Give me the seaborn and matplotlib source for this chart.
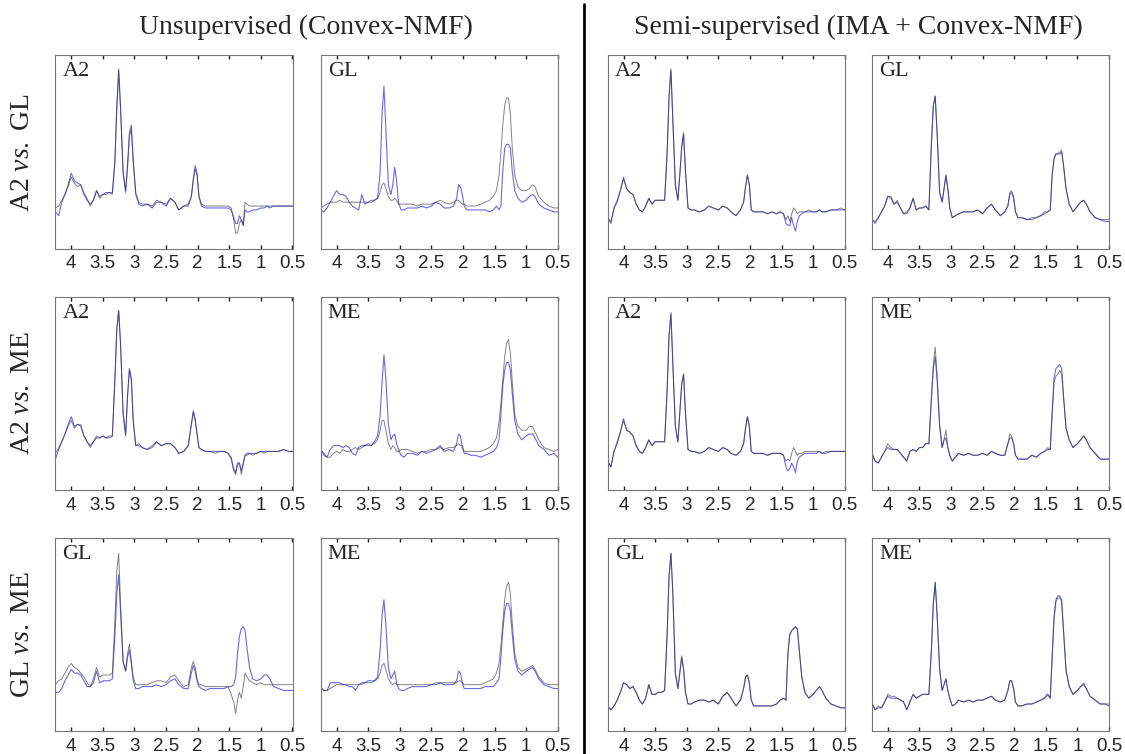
import matplotlib
matplotlib.use("Agg")
import matplotlib.pyplot as plt
from matplotlib.lines import Line2D
import pandas as pd
import seaborn as sns

# chemical shift grid (ppm) shared by every spectrum
ppm = [4.25, 4.20, 4.15, 4.10, 4.05, 4.00, 3.95, 3.90, 3.85, 3.80, 3.75, 3.70, 3.65,
       3.60, 3.55, 3.50, 3.45, 3.40, 3.35,
       3.31, 3.28, 3.25, 3.22, 3.18, 3.14, 3.11, 3.08, 3.05, 3.02, 2.98, 2.93,
       2.88, 2.80, 2.72, 2.65, 2.58, 2.50, 2.43, 2.36, 2.30, 2.22, 2.15,
       2.10, 2.07, 2.04, 2.01, 1.98, 1.94,
       1.88, 1.80, 1.72, 1.65, 1.58, 1.52,
       1.47, 1.43, 1.40, 1.37, 1.34, 1.31, 1.28, 1.25, 1.22, 1.18, 1.13, 1.07, 1.00,
       0.95, 0.90, 0.86, 0.80, 0.72, 0.64, 0.56, 0.50]

tick_pos = [4, 3.5, 3, 2.5, 2, 1.5, 1, 0.5]
tick_labels = ["4", "3.5", "3", "2.5", "2", "1.5", "1", "0.5"]

col_titles = ["Unsupervised (Convex-NMF)", "Semi-supervised (IMA + Convex-NMF)"]
row_titles = ["A2 $\\mathit{vs.}$ GL", "A2 $\\mathit{vs.}$ ME", "GL $\\mathit{vs.}$ ME"]

# ---- row 1 : A2 vs GL ----
u_a2gl_a2_black = [0.21, 0.22, 0.25, 0.28, 0.32, 0.37, 0.34, 0.32, 0.33, 0.29, 0.26, 0.22, 0.25, 0.30, 0.26, 0.28, 0.28, 0.29, 0.28,
                   0.45, 0.72, 0.92, 0.72, 0.39, 0.30, 0.42, 0.58, 0.62, 0.45, 0.29, 0.24,
                   0.23, 0.23, 0.22, 0.25, 0.24, 0.23, 0.26, 0.24, 0.20, 0.22, 0.23,
                   0.27, 0.35, 0.41, 0.38, 0.27, 0.23,
                   0.22, 0.22, 0.22, 0.22, 0.22, 0.22,
                   0.21, 0.15, 0.08, 0.08, 0.13, 0.15, 0.12, 0.24, 0.23, 0.22, 0.22, 0.22, 0.22,
                   0.22, 0.22, 0.22, 0.22, 0.22, 0.22, 0.22, 0.22]
u_a2gl_a2_blue = [0.19, 0.17, 0.24, 0.28, 0.33, 0.39, 0.35, 0.34, 0.33, 0.28, 0.25, 0.23, 0.25, 0.30, 0.27, 0.28, 0.29, 0.29, 0.29,
                  0.45, 0.73, 0.93, 0.73, 0.40, 0.29, 0.43, 0.60, 0.64, 0.46, 0.28, 0.23,
                  0.22, 0.23, 0.21, 0.24, 0.24, 0.22, 0.26, 0.24, 0.20, 0.22, 0.22,
                  0.27, 0.36, 0.43, 0.39, 0.27, 0.22,
                  0.21, 0.21, 0.21, 0.21, 0.21, 0.21,
                  0.20, 0.16, 0.13, 0.13, 0.17, 0.15, 0.12, 0.20, 0.19, 0.19, 0.20, 0.20, 0.21,
                  0.21, 0.22, 0.21, 0.22, 0.22, 0.22, 0.22, 0.22]
u_a2gl_gl_black = [0.21, 0.22, 0.23, 0.24, 0.24, 0.24, 0.25, 0.24, 0.24, 0.24, 0.24, 0.24, 0.24, 0.24, 0.24, 0.24, 0.25, 0.25, 0.26,
                   0.29, 0.33, 0.34, 0.31, 0.27, 0.25, 0.25, 0.26, 0.25, 0.23, 0.23, 0.23,
                   0.23, 0.23, 0.22, 0.23, 0.23, 0.23, 0.24, 0.25, 0.24, 0.23, 0.24,
                   0.25, 0.25, 0.24, 0.23, 0.23, 0.22,
                   0.22, 0.22, 0.23, 0.24, 0.25, 0.27,
                   0.30, 0.38, 0.50, 0.64, 0.74, 0.78, 0.78, 0.70, 0.52, 0.38, 0.32, 0.30, 0.30,
                   0.31, 0.33, 0.32, 0.27, 0.24, 0.22, 0.21, 0.21]
u_a2gl_gl_blue = [0.20, 0.19, 0.21, 0.24, 0.27, 0.30, 0.28, 0.28, 0.27, 0.24, 0.22, 0.21, 0.20, 0.28, 0.23, 0.24, 0.24, 0.25, 0.26,
                  0.40, 0.70, 0.84, 0.62, 0.33, 0.28, 0.33, 0.42, 0.35, 0.24, 0.20, 0.20,
                  0.21, 0.21, 0.21, 0.22, 0.21, 0.22, 0.24, 0.23, 0.21, 0.21, 0.22,
                  0.26, 0.33, 0.32, 0.28, 0.22, 0.20,
                  0.20, 0.20, 0.20, 0.20, 0.19, 0.20,
                  0.22, 0.20, 0.22, 0.40, 0.52, 0.54, 0.54, 0.52, 0.40, 0.30, 0.26, 0.24, 0.25,
                  0.27, 0.28, 0.27, 0.23, 0.21, 0.20, 0.19, 0.19]
s_a2gl_a2_black = [0.16, 0.14, 0.21, 0.24, 0.30, 0.36, 0.31, 0.29, 0.28, 0.23, 0.20, 0.19, 0.22, 0.26, 0.23, 0.25, 0.25, 0.25, 0.25,
                   0.50, 0.78, 0.92, 0.66, 0.33, 0.25, 0.38, 0.52, 0.59, 0.40, 0.21, 0.20,
                   0.20, 0.19, 0.20, 0.22, 0.21, 0.20, 0.22, 0.21, 0.19, 0.17, 0.20,
                   0.24, 0.32, 0.38, 0.33, 0.20, 0.19,
                   0.19, 0.19, 0.18, 0.19, 0.18, 0.19,
                   0.18, 0.15, 0.17, 0.14, 0.18, 0.21, 0.20, 0.18, 0.19, 0.19, 0.19, 0.20, 0.19,
                   0.19, 0.20, 0.19, 0.19, 0.20, 0.20, 0.21, 0.20]
s_a2gl_a2_blue = [0.16, 0.13, 0.21, 0.25, 0.30, 0.37, 0.31, 0.29, 0.28, 0.23, 0.20, 0.19, 0.22, 0.26, 0.23, 0.25, 0.25, 0.25, 0.25,
                  0.50, 0.79, 0.93, 0.67, 0.33, 0.25, 0.38, 0.53, 0.60, 0.40, 0.21, 0.20,
                  0.20, 0.19, 0.20, 0.22, 0.21, 0.20, 0.22, 0.21, 0.19, 0.17, 0.20,
                  0.24, 0.32, 0.38, 0.33, 0.20, 0.19,
                  0.19, 0.19, 0.18, 0.19, 0.18, 0.19,
                  0.18, 0.13, 0.12, 0.12, 0.16, 0.12, 0.09, 0.14, 0.17, 0.18, 0.19, 0.19, 0.19,
                  0.19, 0.20, 0.19, 0.19, 0.20, 0.20, 0.20, 0.20]
s_a2gl_gl_black = [0.15, 0.14, 0.16, 0.19, 0.22, 0.27, 0.27, 0.23, 0.25, 0.21, 0.18, 0.19, 0.21, 0.26, 0.20, 0.21, 0.21, 0.22, 0.20,
                   0.54, 0.74, 0.79, 0.60, 0.29, 0.24, 0.31, 0.38, 0.31, 0.21, 0.16, 0.17,
                   0.18, 0.19, 0.19, 0.19, 0.20, 0.18, 0.21, 0.23, 0.20, 0.17, 0.19,
                   0.22, 0.29, 0.30, 0.27, 0.19, 0.16,
                   0.16, 0.15, 0.16, 0.16, 0.17, 0.19,
                   0.19, 0.20, 0.38, 0.47, 0.49, 0.49, 0.50, 0.51, 0.43, 0.31, 0.23, 0.19, 0.22,
                   0.24, 0.25, 0.23, 0.19, 0.16, 0.15, 0.15, 0.15]
s_a2gl_gl_blue = [0.15, 0.13, 0.16, 0.19, 0.22, 0.27, 0.26, 0.23, 0.24, 0.21, 0.18, 0.18, 0.21, 0.26, 0.20, 0.21, 0.21, 0.22, 0.20,
                  0.54, 0.74, 0.79, 0.60, 0.29, 0.24, 0.31, 0.38, 0.31, 0.21, 0.16, 0.17,
                  0.18, 0.19, 0.19, 0.19, 0.20, 0.18, 0.21, 0.23, 0.20, 0.17, 0.19,
                  0.22, 0.28, 0.29, 0.26, 0.19, 0.16,
                  0.16, 0.15, 0.15, 0.16, 0.17, 0.18,
                  0.19, 0.20, 0.38, 0.46, 0.49, 0.49, 0.49, 0.50, 0.43, 0.31, 0.23, 0.19, 0.22,
                  0.24, 0.25, 0.23, 0.19, 0.16, 0.15, 0.14, 0.14]

# ---- row 2 : A2 vs ME ----
u_a2me_a2_black = [0.19, 0.22, 0.25, 0.29, 0.33, 0.36, 0.32, 0.34, 0.34, 0.28, 0.25, 0.22, 0.25, 0.28, 0.27, 0.28, 0.27, 0.28, 0.28,
                   0.57, 0.83, 0.93, 0.75, 0.39, 0.29, 0.48, 0.62, 0.57, 0.36, 0.23, 0.24,
                   0.22, 0.21, 0.23, 0.25, 0.23, 0.24, 0.24, 0.22, 0.19, 0.20, 0.23,
                   0.34, 0.40, 0.36, 0.29, 0.22, 0.21,
                   0.20, 0.20, 0.19, 0.20, 0.20, 0.19,
                   0.16, 0.10, 0.08, 0.13, 0.14, 0.08, 0.13, 0.18, 0.18, 0.19, 0.18, 0.19, 0.20,
                   0.19, 0.20, 0.20, 0.20, 0.20, 0.21, 0.20, 0.20]
u_a2me_a2_blue = [0.16, 0.21, 0.25, 0.29, 0.34, 0.38, 0.33, 0.34, 0.33, 0.28, 0.25, 0.23, 0.25, 0.27, 0.27, 0.28, 0.27, 0.27, 0.28,
                  0.57, 0.83, 0.93, 0.76, 0.40, 0.28, 0.49, 0.63, 0.58, 0.36, 0.23, 0.23,
                  0.22, 0.21, 0.22, 0.25, 0.23, 0.24, 0.24, 0.22, 0.19, 0.20, 0.23,
                  0.34, 0.41, 0.37, 0.29, 0.22, 0.21,
                  0.20, 0.20, 0.20, 0.20, 0.20, 0.19,
                  0.17, 0.11, 0.09, 0.14, 0.14, 0.10, 0.14, 0.18, 0.19, 0.19, 0.19, 0.19, 0.20,
                  0.20, 0.20, 0.20, 0.20, 0.20, 0.21, 0.20, 0.20]
u_a2me_me_black = [0.21, 0.19, 0.17, 0.17, 0.19, 0.20, 0.19, 0.21, 0.20, 0.20, 0.21, 0.22, 0.21, 0.22, 0.23, 0.23, 0.23, 0.24, 0.26,
                   0.31, 0.36, 0.36, 0.31, 0.24, 0.21, 0.23, 0.22, 0.20, 0.20, 0.21, 0.21,
                   0.21, 0.20, 0.19, 0.20, 0.20, 0.21, 0.21, 0.22, 0.21, 0.22, 0.22,
                   0.23, 0.24, 0.23, 0.23, 0.20, 0.20,
                   0.20, 0.20, 0.20, 0.21, 0.22, 0.24,
                   0.27, 0.35, 0.45, 0.57, 0.69, 0.76, 0.78, 0.71, 0.56, 0.39, 0.33, 0.31, 0.31,
                   0.33, 0.33, 0.30, 0.26, 0.22, 0.21, 0.20, 0.21]
u_a2me_me_blue = [0.21, 0.18, 0.17, 0.21, 0.23, 0.23, 0.23, 0.22, 0.23, 0.22, 0.19, 0.18, 0.22, 0.23, 0.23, 0.24, 0.23, 0.25, 0.28,
                  0.39, 0.56, 0.70, 0.58, 0.34, 0.26, 0.28, 0.29, 0.24, 0.21, 0.18, 0.17,
                  0.19, 0.19, 0.18, 0.20, 0.19, 0.20, 0.21, 0.23, 0.20, 0.21, 0.20,
                  0.24, 0.29, 0.28, 0.22, 0.19, 0.19,
                  0.18, 0.18, 0.17, 0.18, 0.19, 0.20,
                  0.22, 0.26, 0.39, 0.54, 0.62, 0.66, 0.66, 0.62, 0.50, 0.36, 0.29, 0.26, 0.28,
                  0.29, 0.29, 0.27, 0.23, 0.21, 0.18, 0.19, 0.17]
s_a2me_a2_black = [0.15, 0.12, 0.20, 0.24, 0.30, 0.36, 0.31, 0.30, 0.28, 0.23, 0.20, 0.19, 0.22, 0.26, 0.23, 0.25, 0.25, 0.25, 0.25,
                   0.52, 0.80, 0.92, 0.66, 0.33, 0.25, 0.40, 0.55, 0.60, 0.40, 0.21, 0.20,
                   0.20, 0.19, 0.20, 0.22, 0.21, 0.20, 0.22, 0.21, 0.19, 0.18, 0.20,
                   0.24, 0.32, 0.38, 0.33, 0.20, 0.19,
                   0.19, 0.19, 0.18, 0.19, 0.19, 0.19,
                   0.18, 0.15, 0.16, 0.15, 0.19, 0.22, 0.20, 0.18, 0.19, 0.19, 0.20, 0.20, 0.20,
                   0.20, 0.20, 0.19, 0.20, 0.20, 0.20, 0.20, 0.20]
s_a2me_a2_blue = [0.15, 0.12, 0.20, 0.25, 0.30, 0.37, 0.31, 0.30, 0.28, 0.23, 0.20, 0.19, 0.22, 0.26, 0.23, 0.25, 0.25, 0.25, 0.25,
                  0.52, 0.80, 0.91, 0.65, 0.33, 0.25, 0.40, 0.55, 0.60, 0.40, 0.21, 0.20,
                  0.20, 0.19, 0.20, 0.22, 0.21, 0.20, 0.22, 0.21, 0.19, 0.18, 0.20,
                  0.24, 0.32, 0.38, 0.33, 0.20, 0.19,
                  0.19, 0.19, 0.18, 0.19, 0.19, 0.19,
                  0.18, 0.12, 0.10, 0.11, 0.14, 0.12, 0.09, 0.15, 0.17, 0.18, 0.19, 0.19, 0.19,
                  0.19, 0.20, 0.19, 0.19, 0.20, 0.20, 0.20, 0.20]
s_a2me_me_black = [0.19, 0.15, 0.14, 0.17, 0.20, 0.24, 0.22, 0.21, 0.21, 0.19, 0.17, 0.15, 0.20, 0.21, 0.20, 0.22, 0.22, 0.24, 0.24,
                   0.48, 0.65, 0.74, 0.60, 0.34, 0.22, 0.26, 0.31, 0.22, 0.18, 0.15, 0.17,
                   0.19, 0.18, 0.19, 0.18, 0.18, 0.19, 0.18, 0.20, 0.19, 0.18, 0.18,
                   0.24, 0.29, 0.28, 0.24, 0.18, 0.16,
                   0.16, 0.16, 0.18, 0.17, 0.19, 0.20,
                   0.22, 0.21, 0.39, 0.56, 0.59, 0.60, 0.62, 0.60, 0.48, 0.32, 0.26, 0.22, 0.24,
                   0.26, 0.28, 0.26, 0.22, 0.19, 0.16, 0.16, 0.16]
s_a2me_me_blue = [0.19, 0.15, 0.14, 0.17, 0.20, 0.22, 0.21, 0.21, 0.21, 0.19, 0.17, 0.15, 0.20, 0.21, 0.20, 0.22, 0.22, 0.24, 0.24,
                  0.47, 0.63, 0.69, 0.57, 0.33, 0.22, 0.26, 0.27, 0.22, 0.18, 0.15, 0.17,
                  0.19, 0.18, 0.19, 0.18, 0.18, 0.19, 0.18, 0.20, 0.19, 0.18, 0.18,
                  0.24, 0.27, 0.27, 0.24, 0.18, 0.16,
                  0.16, 0.16, 0.18, 0.17, 0.19, 0.20,
                  0.21, 0.21, 0.40, 0.58, 0.63, 0.64, 0.65, 0.63, 0.49, 0.32, 0.26, 0.22, 0.24,
                  0.26, 0.28, 0.26, 0.22, 0.19, 0.16, 0.16, 0.16]

# ---- row 3 : GL vs ME ----
u_glme_gl_black = [0.24, 0.26, 0.27, 0.30, 0.33, 0.35, 0.33, 0.32, 0.30, 0.28, 0.25, 0.23, 0.27, 0.33, 0.28, 0.29, 0.29, 0.29, 0.30,
                   0.57, 0.83, 0.92, 0.66, 0.36, 0.31, 0.40, 0.45, 0.36, 0.28, 0.24, 0.24,
                   0.24, 0.24, 0.25, 0.26, 0.26, 0.25, 0.28, 0.29, 0.26, 0.23, 0.24,
                   0.33, 0.36, 0.33, 0.27, 0.24, 0.24,
                   0.23, 0.23, 0.23, 0.23, 0.23, 0.23,
                   0.19, 0.15, 0.09, 0.16, 0.20, 0.17, 0.23, 0.30, 0.28, 0.26, 0.25, 0.24, 0.25,
                   0.24, 0.24, 0.24, 0.24, 0.24, 0.24, 0.24, 0.24]
u_glme_gl_blue = [0.20, 0.20, 0.22, 0.26, 0.29, 0.32, 0.30, 0.30, 0.29, 0.26, 0.23, 0.23, 0.25, 0.31, 0.25, 0.26, 0.26, 0.26, 0.27,
                  0.49, 0.71, 0.81, 0.61, 0.36, 0.31, 0.38, 0.42, 0.35, 0.26, 0.22, 0.22,
                  0.23, 0.23, 0.23, 0.24, 0.23, 0.24, 0.26, 0.27, 0.24, 0.22, 0.22,
                  0.30, 0.34, 0.31, 0.26, 0.23, 0.22,
                  0.21, 0.22, 0.22, 0.22, 0.22, 0.23,
                  0.23, 0.24, 0.28, 0.40, 0.49, 0.53, 0.54, 0.52, 0.43, 0.33, 0.27, 0.26, 0.27,
                  0.29, 0.29, 0.27, 0.23, 0.22, 0.21, 0.21, 0.21]
u_glme_me_black = [0.23, 0.21, 0.21, 0.22, 0.23, 0.24, 0.24, 0.24, 0.24, 0.24, 0.24, 0.24, 0.24, 0.24, 0.25, 0.25, 0.25, 0.26, 0.27,
                   0.30, 0.34, 0.35, 0.32, 0.27, 0.25, 0.24, 0.25, 0.24, 0.24, 0.24, 0.24,
                   0.24, 0.24, 0.24, 0.24, 0.24, 0.24, 0.25, 0.25, 0.25, 0.25, 0.25,
                   0.25, 0.26, 0.26, 0.25, 0.24, 0.24,
                   0.24, 0.24, 0.24, 0.25, 0.26, 0.27,
                   0.30, 0.35, 0.44, 0.56, 0.68, 0.75, 0.77, 0.71, 0.56, 0.40, 0.33, 0.31, 0.32,
                   0.33, 0.34, 0.32, 0.28, 0.25, 0.24, 0.24, 0.24]
u_glme_me_blue = [0.22, 0.21, 0.21, 0.25, 0.25, 0.25, 0.25, 0.24, 0.24, 0.23, 0.23, 0.21, 0.24, 0.25, 0.25, 0.26, 0.26, 0.26, 0.28,
                  0.42, 0.60, 0.68, 0.55, 0.33, 0.27, 0.29, 0.31, 0.25, 0.22, 0.21, 0.21,
                  0.22, 0.23, 0.23, 0.23, 0.23, 0.24, 0.24, 0.25, 0.24, 0.24, 0.24,
                  0.26, 0.31, 0.30, 0.25, 0.22, 0.22,
                  0.22, 0.22, 0.22, 0.23, 0.23, 0.23,
                  0.25, 0.27, 0.38, 0.52, 0.62, 0.66, 0.66, 0.62, 0.50, 0.37, 0.31, 0.29, 0.31,
                  0.32, 0.33, 0.31, 0.27, 0.24, 0.23, 0.22, 0.22]
s_glme_gl_black = [0.12, 0.11, 0.13, 0.16, 0.20, 0.25, 0.24, 0.22, 0.23, 0.20, 0.16, 0.14, 0.17, 0.24, 0.19, 0.19, 0.20, 0.20, 0.21,
                   0.50, 0.80, 0.92, 0.72, 0.30, 0.22, 0.30, 0.39, 0.32, 0.20, 0.14, 0.14,
                   0.15, 0.16, 0.16, 0.15, 0.16, 0.14, 0.18, 0.20, 0.17, 0.13, 0.16,
                   0.22, 0.28, 0.29, 0.25, 0.16, 0.13,
                   0.13, 0.13, 0.13, 0.13, 0.14, 0.16,
                   0.17, 0.16, 0.40, 0.50, 0.52, 0.53, 0.54, 0.53, 0.42, 0.28, 0.20, 0.17, 0.19,
                   0.21, 0.23, 0.21, 0.17, 0.14, 0.13, 0.12, 0.12]
s_glme_gl_blue = [0.13, 0.11, 0.13, 0.16, 0.20, 0.25, 0.24, 0.22, 0.23, 0.20, 0.16, 0.14, 0.17, 0.24, 0.19, 0.19, 0.20, 0.20, 0.21,
                  0.50, 0.80, 0.92, 0.71, 0.30, 0.22, 0.30, 0.38, 0.32, 0.20, 0.14, 0.14,
                  0.15, 0.16, 0.16, 0.15, 0.16, 0.14, 0.18, 0.20, 0.17, 0.13, 0.16,
                  0.22, 0.28, 0.29, 0.25, 0.16, 0.13,
                  0.13, 0.13, 0.13, 0.13, 0.14, 0.16,
                  0.17, 0.16, 0.40, 0.50, 0.52, 0.53, 0.54, 0.53, 0.42, 0.28, 0.20, 0.17, 0.19,
                  0.21, 0.23, 0.21, 0.17, 0.14, 0.13, 0.12, 0.12]
s_glme_me_black = [0.15, 0.11, 0.13, 0.12, 0.15, 0.19, 0.18, 0.18, 0.17, 0.16, 0.15, 0.11, 0.15, 0.19, 0.17, 0.18, 0.19, 0.19, 0.19,
                   0.42, 0.66, 0.77, 0.60, 0.32, 0.21, 0.24, 0.27, 0.21, 0.17, 0.13, 0.14,
                   0.16, 0.15, 0.16, 0.15, 0.16, 0.16, 0.17, 0.18, 0.16, 0.15, 0.16,
                   0.21, 0.26, 0.26, 0.22, 0.15, 0.13,
                   0.13, 0.14, 0.14, 0.15, 0.16, 0.17,
                   0.19, 0.17, 0.38, 0.58, 0.67, 0.69, 0.69, 0.67, 0.52, 0.32, 0.23, 0.19, 0.21,
                   0.23, 0.25, 0.22, 0.18, 0.16, 0.14, 0.14, 0.14]
s_glme_me_blue = [0.14, 0.11, 0.12, 0.12, 0.15, 0.18, 0.17, 0.17, 0.17, 0.16, 0.15, 0.11, 0.15, 0.19, 0.17, 0.18, 0.19, 0.19, 0.19,
                  0.42, 0.66, 0.77, 0.60, 0.32, 0.21, 0.24, 0.27, 0.21, 0.17, 0.13, 0.14,
                  0.16, 0.15, 0.16, 0.15, 0.16, 0.16, 0.17, 0.18, 0.16, 0.15, 0.16,
                  0.21, 0.26, 0.26, 0.22, 0.15, 0.13,
                  0.13, 0.14, 0.14, 0.15, 0.16, 0.17,
                  0.19, 0.17, 0.38, 0.59, 0.68, 0.70, 0.70, 0.68, 0.52, 0.31, 0.23, 0.19, 0.21,
                  0.23, 0.24, 0.22, 0.18, 0.16, 0.14, 0.14, 0.13]

panels = [
    [("A2", u_a2gl_a2_black, u_a2gl_a2_blue), ("GL", u_a2gl_gl_black, u_a2gl_gl_blue),
     ("A2", s_a2gl_a2_black, s_a2gl_a2_blue), ("GL", s_a2gl_gl_black, s_a2gl_gl_blue)],
    [("A2", u_a2me_a2_black, u_a2me_a2_blue), ("ME", u_a2me_me_black, u_a2me_me_blue),
     ("A2", s_a2me_a2_black, s_a2me_a2_blue), ("ME", s_a2me_me_black, s_a2me_me_blue)],
    [("GL", u_glme_gl_black, u_glme_gl_blue), ("ME", u_glme_me_black, u_glme_me_blue),
     ("GL", s_glme_gl_black, s_glme_gl_blue), ("ME", s_glme_me_black, s_glme_me_blue)],
]

sns.set_theme(style="white")
plt.rcParams["font.family"] = ["Liberation Serif", "DejaVu Serif"]
plt.rcParams["mathtext.fontset"] = "custom"
plt.rcParams["mathtext.rm"] = "Liberation Serif"
plt.rcParams["mathtext.it"] = "Liberation Serif:italic"

fig = plt.figure(figsize=(11.25, 7.54), dpi=100)

col_left = [0.0493, 0.2851, 0.5402, 0.7751]
row_bottom = [0.6704, 0.3501, 0.0305]
w, h = 0.2107, 0.256

for r, row in enumerate(panels):
    for c, (label, black, blue) in enumerate(row):
        assert len(black) == len(ppm) and len(blue) == len(ppm)
        ax = fig.add_axes([col_left[c], row_bottom[r], w, h])
        # blue estimate underneath, grey line on top (they blend to slate where equal)
        sns.lineplot(x=ppm, y=blue, color="#6a6ae8", linewidth=0.8, estimator=None, ax=ax)
        sns.lineplot(x=ppm, y=black, color="#303030", linewidth=0.7, alpha=0.6,
                     estimator=None, ax=ax)
        ax.set_xlim(4.25, 0.5)
        ax.set_ylim(0, 1)
        ax.set_xlabel("")
        ax.set_ylabel("")
        ax.set_yticks([])
        ax.set_xticks(tick_pos)
        ax.set_xticklabels(tick_labels, fontfamily="Liberation Sans", fontsize=13.5)
        ax.tick_params(axis="x", direction="in", length=3, width=1, color="#222222",
                       top=True, bottom=True, pad=5)
        for sp in ax.spines.values():
            sp.set_color("#777777")
            sp.set_linewidth(0.8)
        ax.text(0.03, 0.965, label, transform=ax.transAxes, ha="left", va="top", fontsize=16)

fig.text(0.272, 0.964, col_titles[0], ha="center", va="center", fontsize=20)
fig.text(0.763, 0.964, col_titles[1], ha="center", va="center", fontsize=20)
for y, t in zip([0.798, 0.479, 0.159], row_titles):
    fig.text(0.0196, y, t, ha="center", va="center", rotation=90, fontsize=20)

fig.add_artist(Line2D([0.5187, 0.5187], [0.0, 0.995], color="black", linewidth=2,
                      transform=fig.transFigure))

fig.savefig("out.png", dpi=100)
